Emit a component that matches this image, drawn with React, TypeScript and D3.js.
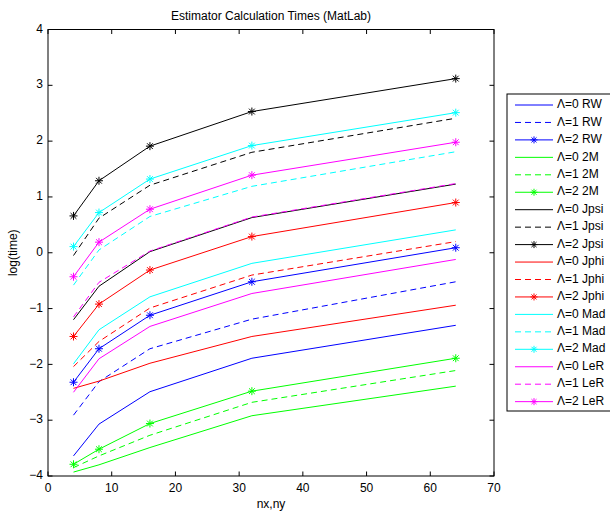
import React from "react";
import * as d3 from "d3";

const xs = [4, 8, 16, 32, 64];

const rw0 = [-3.64, -3.07, -2.49, -1.89, -1.3];
const rw1 = [-2.91, -2.31, -1.72, -1.19, -0.52];
const rw2 = [-2.32, -1.72, -1.12, -0.52, 0.09];
const m2_0 = [-3.93, -3.8, -3.49, -2.92, -2.39];
const m2_1 = [-3.85, -3.64, -3.27, -2.68, -2.11];
const m2_2 = [-3.79, -3.52, -3.06, -2.48, -1.89];
const jpsi0 = [-1.2, -0.6, 0.02, 0.63, 1.23];
const jpsi1 = [-0.05, 0.62, 1.21, 1.8, 2.41];
const jpsi2 = [0.66, 1.29, 1.91, 2.53, 3.12];
const jphi0 = [-2.43, -2.3, -1.98, -1.5, -0.94];
const jphi1 = [-2.04, -1.59, -0.99, -0.4, 0.2];
const jphi2 = [-1.5, -0.92, -0.31, 0.29, 0.9];
const mad0 = [-1.99, -1.38, -0.79, -0.19, 0.41];
const mad1 = [-0.58, 0.05, 0.65, 1.19, 1.81];
const mad2 = [0.11, 0.72, 1.32, 1.92, 2.51];
const ler0 = [-2.5, -1.9, -1.32, -0.73, -0.12];
const ler1 = [-1.15, -0.53, 0.03, 0.64, 1.24];
const ler2 = [-0.43, 0.19, 0.78, 1.39, 1.98];

const xTicks = [0, 10, 20, 30, 40, 50, 60, 70];
const yTicks = [-4, -3, -2, -1, 0, 1, 2, 3, 4];

const methods = ["RW", "2M", "Jpsi", "Jphi", "Mad", "LeR"];
const methodColors = ["#0000ff", "#00ff00", "#000000", "#ff0000", "#00ffff", "#ff00ff"];
const methodData = [
  [rw0, rw1, rw2],
  [m2_0, m2_1, m2_2],
  [jpsi0, jpsi1, jpsi2],
  [jphi0, jphi1, jphi2],
  [mad0, mad1, mad2],
  [ler0, ler1, ler2],
];

type Series = { label: string; color: string; values: number[]; dashed: boolean; star: boolean };
const series: Series[] = [];
methods.forEach((m, i) => {
  [0, 1, 2].forEach((k) => {
    series.push({
      label: `Λ=${k} ${m}`,
      color: methodColors[i],
      values: methodData[i][k],
      dashed: k === 1,
      star: k === 2,
    });
  });
});

const FONT = "'Liberation Sans', Arial, Helvetica, sans-serif";

function Star({ cx, cy, color, r = 4 }: { cx: number; cy: number; color: string; r?: number }) {
  const d = r * 0.72;
  return (
    <g stroke={color} strokeWidth={1}>
      <line x1={cx - r} y1={cy} x2={cx + r} y2={cy} />
      <line x1={cx} y1={cy - r} x2={cx} y2={cy + r} />
      <line x1={cx - d} y1={cy - d} x2={cx + d} y2={cy + d} />
      <line x1={cx - d} y1={cy + d} x2={cx + d} y2={cy - d} />
    </g>
  );
}

export default function App() {
  const L = 48, R = 494, T = 29.5, B = 476;
  const x = d3.scaleLinear().domain([0, 70]).range([L, R]);
  const y = d3.scaleLinear().domain([-4, 4]).range([B, T]);
  const line = d3
    .line<number>()
    .x((_, i) => x(xs[i]))
    .y((v) => y(v));
  const tickLen = 4.5;

  const legX = 507, legY = 94, legW = 110, legH = 317;
  const rowY0 = 105, rowDy = 17.45;

  return (
    <svg
      width={610}
      height={515}
      style={{ position: "absolute", left: 0, top: 0, background: "#fff" }}
      fontFamily={FONT}
    >
      <rect x={0} y={0} width={610} height={515} fill="#fff" />
      {/* title */}
      <text x={(L + R) / 2} y={17} textAnchor="middle" dominantBaseline="middle" fontSize={12}>
        Estimator Calculation Times (MatLab)
      </text>
      {/* series */}
      {series.map((s, i) => (
        <g key={i}>
          <path
            d={line(s.values) || ""}
            fill="none"
            stroke={s.color}
            strokeWidth={1}
            strokeDasharray={s.dashed ? "6,4" : undefined}
          />
          {s.star &&
            s.values.map((v, j) => <Star key={j} cx={x(xs[j])} cy={y(v)} color={s.color} />)}
        </g>
      ))}
      {/* axes box */}
      <rect x={L} y={T} width={R - L} height={B - T} fill="none" stroke="#000" strokeWidth={1} />
      {xTicks.map((t) => (
        <g key={"x" + t}>
          <line x1={x(t)} x2={x(t)} y1={B} y2={B - tickLen} stroke="#000" />
          <line x1={x(t)} x2={x(t)} y1={T} y2={T + tickLen} stroke="#000" />
          <text x={x(t)} y={489} textAnchor="middle" dominantBaseline="middle" fontSize={12}>
            {t}
          </text>
        </g>
      ))}
      {yTicks.map((t) => (
        <g key={"y" + t}>
          <line x1={L} x2={L + tickLen} y1={y(t)} y2={y(t)} stroke="#000" />
          <line x1={R} x2={R - tickLen} y1={y(t)} y2={y(t)} stroke="#000" />
          <text x={43} y={y(t)} textAnchor="end" dominantBaseline="middle" fontSize={12}>
            {t < 0 ? "\u2212" + Math.abs(t) : String(t)}
          </text>
        </g>
      ))}
      <text x={(L + R) / 2} y={505} textAnchor="middle" dominantBaseline="middle" fontSize={12}>
        nx,ny
      </text>
      <text
        transform={`translate(14,${(T + B) / 2}) rotate(-90)`}
        textAnchor="middle"
        dominantBaseline="middle"
        fontSize={12}
      >
        log(time)
      </text>
      {/* legend */}
      <rect x={legX} y={legY} width={legW} height={legH} fill="#fff" stroke="#000" strokeWidth={1} />
      {series.map((s, i) => {
        const ry = rowY0 + i * rowDy;
        return (
          <g key={"leg" + i}>
            <line
              x1={515}
              x2={553}
              y1={ry}
              y2={ry}
              stroke={s.color}
              strokeWidth={1}
              strokeDasharray={s.dashed ? "6,4" : undefined}
            />
            {s.star && <Star cx={534} cy={ry} color={s.color} r={3.5} />}
            <text x={557} y={ry} dominantBaseline="middle" fontSize={12}>
              {s.label}
            </text>
          </g>
        );
      })}
    </svg>
  );
}
